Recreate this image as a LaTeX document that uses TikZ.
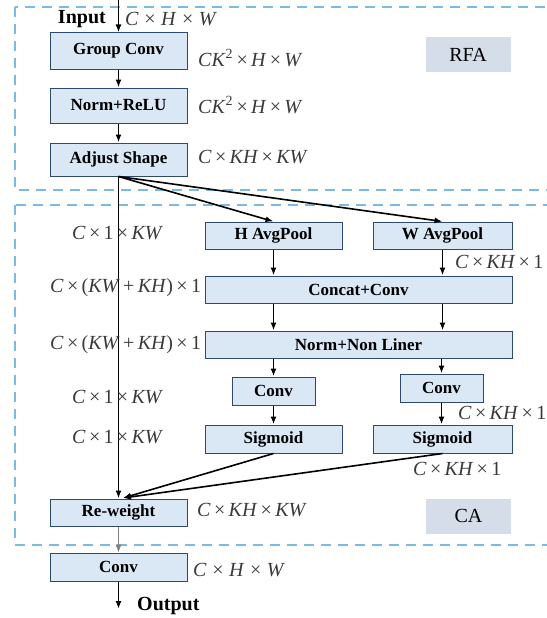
\documentclass[tikz,border=0pt]{standalone}
\usepackage{fontspec}
\setmainfont{Liberation Serif}
\usetikzlibrary{arrows.meta,calc}
\definecolor{blkfill}{HTML}{DAE8F5}
\definecolor{blkline}{HTML}{2E4A6E}
\definecolor{tagfill}{HTML}{D5DEE8}
\definecolor{dashblue}{HTML}{7DB9E3}
\definecolor{dimgray}{HTML}{3A3A3A}
\newcommand\mx{\,×\,}
\newcommand\wx{\;×\;}
\newcommand\iv[1]{\textit{#1}}
\tikzset{
  blk/.style={draw=blkline, fill=blkfill, line width=1pt, inner sep=0pt,
    font=\bfseries\fontsize{17}{17}\selectfont},
  tag/.style={fill=tagfill, inner sep=0pt, minimum width=85pt, minimum height=35pt,
    font=\fontsize{20}{20}\selectfont},
  dim/.style={anchor=west, inner sep=0pt, text=dimgray, font=\fontsize{20}{20}\selectfont},
  dashbox/.style={draw=dashblue, line width=2.5pt, dash pattern=on 10pt off 7pt},
  flow/.style={line width=1.6pt, -{Latex[length=8pt,width=6pt]}},
  io/.style={inner sep=0pt, font=\bfseries\fontsize{20}{20}\selectfont}
}
\begin{document}
\begin{tikzpicture}[x=1pt,y=-1pt]
\useasboundingbox (0,0) rectangle (546,618);

% module frames
\draw[dashbox] (15,7) rectangle (590,190);
\draw[dashbox] (15,205) rectangle (590,545);
\node[tag] (rfa) at (468,54.5) {RFA};
\node[tag] (ca) at (468.5,516) {CA};

% RFA branch
\coordinate (in) at (118.5,0);
\node[blk, minimum width=137pt, minimum height=36pt] (gc) at (118.5,51) {Group Conv};
\node[blk, minimum width=137pt, minimum height=35pt] (nr) at (118.5,105.5) {Norm+ReLU};
\node[blk, minimum width=137pt, minimum height=33pt] (as) at (118.5,159.5) {Adjust Shape};
\node[io, anchor=east] (inp) at (106,19) {Input};

\draw[flow] (in) -- (gc);
\draw[flow] (gc) -- (nr);
\draw[flow] (nr) -- (as);

\node[dim] (d1) at (125,19) {\iv{C}\wx\iv{H}\wx\iv{W}};
\node[dim] (d2) at (198,58) {\iv{CK}\textsuperscript{2}\mx\iv{H}\mx\iv{W}};
\node[dim] (d3) at (198,105) {\iv{CK}\textsuperscript{2}\mx\iv{H}\mx\iv{W}};
\node[dim] (d4) at (198,157) {\iv{C}\mx\iv{KH}\mx\iv{KW}};

% CA branch
\node[blk, minimum width=137pt, minimum height=27pt] (hp) at (273.5,235.5) {H AvgPool};
\node[blk, minimum width=139pt, minimum height=27pt] (wp) at (442.5,235.5) {W AvgPool};
\node[blk, minimum width=307pt, minimum height=27pt] (cc) at (358.5,289.5) {Concat+Conv};
\node[blk, minimum width=307pt, minimum height=27pt] (nn) at (358.5,344.5) {Norm+Non Liner};
\node[blk, minimum width=83pt, minimum height=28pt] (cl) at (273.5,391) {Conv};
\node[blk, minimum width=83pt, minimum height=28pt] (cr) at (441.5,388) {Conv};
\node[blk, minimum width=137pt, minimum height=28pt] (sl) at (273.5,439) {Sigmoid};
\node[blk, minimum width=139pt, minimum height=28pt] (sr) at (442.5,439) {Sigmoid};
\node[blk, minimum width=137pt, minimum height=27pt] (rw) at (118.5,512.5) {Re-weight};
\node[blk, minimum width=137pt, minimum height=28pt] (oc) at (118.5,567) {Conv};
\coordinate (mix) at (123,498);
\coordinate (out) at (118.5,609);
\node[io, anchor=west] (outp) at (137,606) {Output};

\draw[flow] (as.south) -- (rw.north);
\draw[flow] (as.south) -- (hp.north);
\draw[flow] (as.south) -- (wp.north);
\draw[flow] (hp.south) -- (hp.south |- cc.north);
\draw[flow] (wp.south) -- (wp.south |- cc.north);
\draw[flow] (hp.south |- cc.south) -- (hp.south |- nn.north);
\draw[flow] (wp.south |- cc.south) -- (wp.south |- nn.north);
\draw[flow] (cl.north |- nn.south) -- (cl.north);
\draw[flow] (cr.north |- nn.south) -- (cr.north);
\draw[flow] (cl) -- (sl);
\draw[flow] (cr) -- (cr |- sl.north);
\draw[flow] (sl.south) -- (mix);
\draw[flow] (sr.south) -- (mix);
\draw[flow, line width=0.8pt, draw=gray] (rw) -- (oc);
\draw[flow] (oc) -- (out);

\node[dim] (e1) at (72,233) {\iv{C}\mx1\mx\iv{KW}};
\node[dim] (e2) at (50,288) {\iv{C}\mx(\iv{KW}\,+\,\iv{KH})\mx1};
\node[dim] (e3) at (50,345) {\iv{C}\mx(\iv{KW}\,+\,\iv{KH})\mx1};
\node[dim] (e4) at (72,397) {\iv{C}\mx1\mx\iv{KW}};
\node[dim] (e5) at (72,437) {\iv{C}\mx1\mx\iv{KW}};
\node[dim] (e6) at (455,262) {\iv{C}\mx\iv{KH}\mx1};
\node[dim] (e7) at (458,413) {\iv{C}\mx\iv{KH}\mx1};
\node[dim] (e8) at (413,469) {\iv{C}\mx\iv{KH}\mx1};
\node[dim] (e9) at (197,510) {\iv{C}\mx\iv{KH}\mx\iv{KW}};
\node[dim] (e10) at (193,570) {\iv{C}\wx\iv{H}\wx\iv{W}};
\end{tikzpicture}
\end{document}
